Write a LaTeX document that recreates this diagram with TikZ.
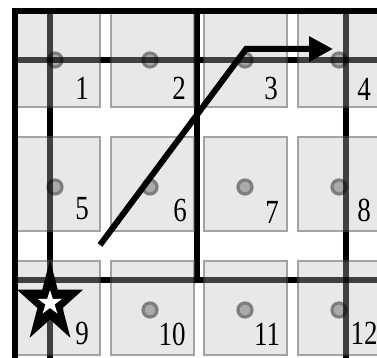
\documentclass[tikz,border=0pt]{standalone}
\usepackage{fontspec}
\setmainfont{Liberation Serif}
\usetikzlibrary{arrows.meta,calc}
\definecolor{cellfill}{HTML}{E8E8E8}
\definecolor{cellline}{HTML}{A3A3A3}
\definecolor{dotring}{HTML}{7E7E7E}
\definecolor{dotcore}{HTML}{AAAAAA}
\newcommand{\tallnum}[1]{\scalebox{1}[1.25]{#1}}
\begin{document}
\begin{tikzpicture}[x=1pt,y=-1pt,
  cellbox/.style={fill=cellfill,draw=cellline,line width=1.6pt},
  gridline/.style={line width=6pt,line cap=butt},
  overlay line/.style={gridline,draw opacity=0.72},
  framerule/.style={line width=6pt,line cap=butt},
  dotmark/.style={circle,fill=dotcore,draw=dotring,line width=3.2pt,minimum size=14pt,inner sep=0pt},
  numlabel/.style={font=\fontsize{27}{27}\selectfont,inner sep=0pt},
  route/.style={line width=6pt,-{Triangle[length=24pt,width=24pt]}}
]
\useasboundingbox (0,0) rectangle (377,358);
\clip (0,0) rectangle (377,358);
\fill[white] (0,0) rectangle (377,358);
% grid lines (under cells)
\draw[gridline] (50,11) -- (50,358);
\draw[gridline] (197,11) -- (197,283);
\draw[gridline] (346,11) -- (346,358);
\draw[gridline] (15,60) -- (377,60);
\draw[gridline] (15,280) -- (377,280);
% cells
\foreach \x in {17,111,204,298}{
  \foreach \y in {13,137,261}{
    \draw[cellbox] (\x,\y) rectangle ++(83,94);
  }
}
% dots
\foreach \x [count=\i] in {55,150,245,339}{
  \node[dotmark] (d1\i) at (\x,60) {};
  \node[dotmark] (d2\i) at (\x,187) {};
  \node[dotmark] (d3\i) at (\x,310) {};
}
% grid lines seen through cells
\draw[overlay line] (50,11) -- (50,358);
\draw[overlay line] (197,11) -- (197,283);
\draw[overlay line] (346,11) -- (346,358);
\draw[overlay line] (15,60) -- (377,60);
\draw[overlay line] (15,280) -- (377,280);
% frame
\draw[framerule] (12,11) -- (377,11);
\draw[framerule] (15,8) -- (15,358);
% labels
\node[numlabel] (n1) at (82,88) {\tallnum{1}};
\node[numlabel] (n2) at (179,88) {\tallnum{2}};
\node[numlabel] (n3) at (271,88) {\tallnum{3}};
\node[numlabel] (n4) at (364,89) {\tallnum{4}};
\node[numlabel] (n5) at (82,209) {\tallnum{5}};
\node[numlabel] (n6) at (180,210) {\tallnum{6}};
\node[numlabel] (n7) at (272,212) {\tallnum{7}};
\node[numlabel] (n8) at (364,210) {\tallnum{8}};
\node[numlabel] (n9) at (82,333) {\tallnum{9}};
\node[numlabel] (n10) at (172,334) {\tallnum{10}};
\node[numlabel] (n11) at (267,334) {\tallnum{11}};
\node[numlabel] (n12) at (364,333) {\tallnum{12}};
% route arrow
\coordinate (rs) at (100,245);
\coordinate (rc) at (246,49);
\coordinate (re) at (333,49);
\draw[route] (rs) -- (rc) -- (re);
% star
\coordinate (sc) at (50,303);
\fill[black] ($(sc)+(0,-43)$) \foreach \k in {1,...,9}{
  -- ($(sc)+({(mod(\k,2)==1 ? 0.382 : 1)*34.7*sin(36*\k)},{-(mod(\k,2)==1 ? 0.382 : 1)*43*cos(36*\k)})$)
} -- cycle;
\fill[white] ($(sc)+(0,-13)$) \foreach \k in {1,...,9}{
  -- ($(sc)+({(mod(\k,2)==1 ? 0.382 : 1)*12.6*sin(36*\k)},{-(mod(\k,2)==1 ? 0.382 : 1)*13*cos(36*\k)})$)
} -- cycle;
\end{tikzpicture}
\end{document}
